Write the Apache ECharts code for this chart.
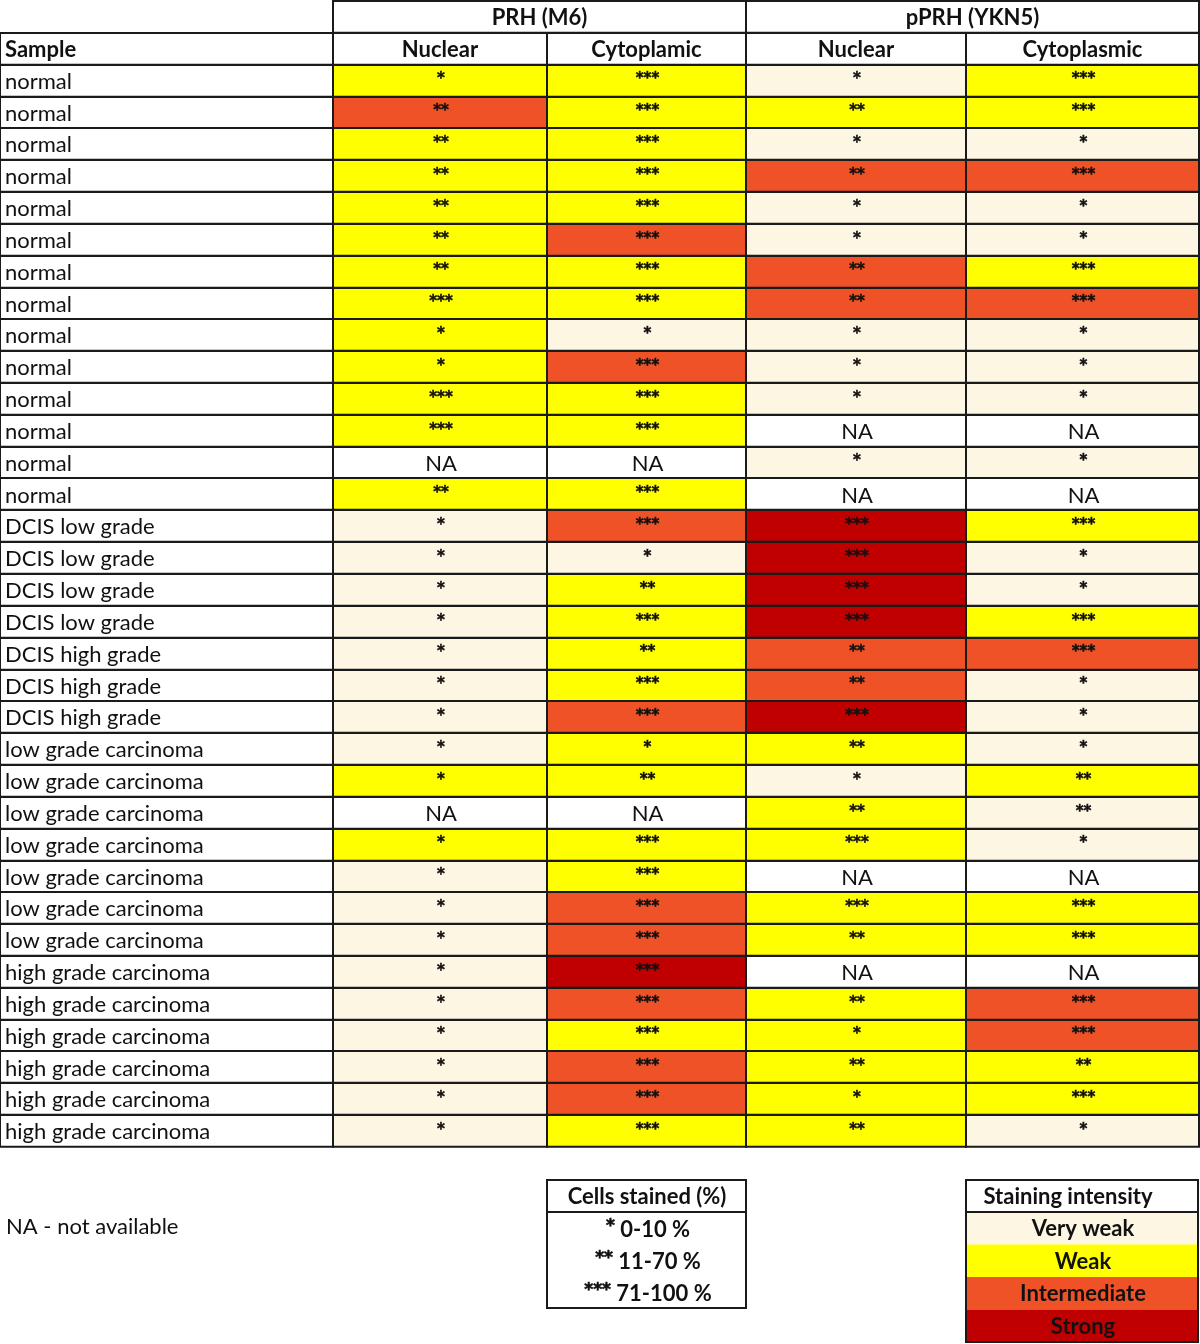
<!DOCTYPE html>
<html><head><meta charset="utf-8">
<script src="https://cdn.jsdelivr.net/npm/echarts@6/dist/echarts.min.js"></script>
<style>html,body{margin:0;padding:0;background:#fff}#c{width:1200px;height:1344px}</style>
</head><body><div id="c"></div>
<script>
// ---------- DATA ----------
const SAMPLES = ['normal','normal','normal','normal','normal','normal','normal','normal','normal','normal','normal','normal','normal','normal',
  'DCIS low grade','DCIS low grade','DCIS low grade','DCIS low grade',
  'DCIS high grade','DCIS high grade','DCIS high grade',
  'low grade carcinoma','low grade carcinoma','low grade carcinoma','low grade carcinoma','low grade carcinoma','low grade carcinoma','low grade carcinoma',
  'high grade carcinoma','high grade carcinoma','high grade carcinoma','high grade carcinoma','high grade carcinoma','high grade carcinoma'];
const GROUPS = ['PRH (M6)', 'pPRH (YKN5)'];
const COLUMNS = ['Nuclear', 'Cytoplamic', 'Nuclear', 'Cytoplasmic'];
// intensity: V very weak, W weak, I intermediate, S strong, N not available
const PRH_NUC_INT   = ['W','I','W','W','W','W','W','W','W','W','W','W','N','W','V','V','V','V','V','V','V','V','W','N','W','V','V','V','V','V','V','V','V','V'];
const PRH_NUC_STARS = [1,2,2,2,2,2,2,3,1,1,3,3,0,2,1,1,1,1,1,1,1,1,1,0,1,1,1,1,1,1,1,1,1,1];
const PRH_CYT_INT   = ['W','W','W','W','W','I','W','W','V','I','W','W','N','W','I','V','W','W','W','W','I','W','W','N','W','W','I','I','S','I','W','I','I','W'];
const PRH_CYT_STARS = [3,3,3,3,3,3,3,3,1,3,3,3,0,3,3,1,2,3,2,3,3,1,2,0,3,3,3,3,3,3,3,3,3,3];
const PPRH_NUC_INT   = ['V','W','V','I','V','V','I','I','V','V','V','N','V','N','S','S','S','S','I','I','S','W','V','W','W','N','W','W','N','W','W','W','W','W'];
const PPRH_NUC_STARS = [1,2,1,2,1,1,2,2,1,1,1,0,1,0,3,3,3,3,2,2,3,2,1,2,3,0,3,2,0,2,1,2,1,2];
const PPRH_CYT_INT   = ['W','W','V','I','V','V','W','I','V','V','V','N','V','N','W','V','V','W','I','V','V','V','W','V','V','N','W','W','N','I','I','W','W','V'];
const PPRH_CYT_STARS = [3,3,1,3,1,1,3,3,1,1,1,0,1,0,3,1,1,3,3,1,1,1,2,2,1,0,3,3,0,3,3,2,3,1];
const INTENSITY_KEYS  = ['V','W','I','S'];
const INTENSITY_NAMES = ['Very weak','Weak','Intermediate','Strong'];
const STAIN_STARS = ['*', '**', '***'];
const STAIN_RANGES = ['0-10 %', '11-70 %', '71-100 %'];
const NA_NOTE = 'NA - not available';

// ---------- STYLE / LAYOUT ----------
const COLORS = {V:'#FDF6E3', W:'#FFFF00', I:'#F05228', S:'#C00000', N:'#FFFFFF'};
const COL_EDGES = [0, 333, 547, 746, 966, 1199];  // x-axis units
const FONT = 'Lato, "Open Sans", sans-serif';
const STAR_FONT = 'bold 15px "DejaVu Sans", sans-serif';
const FS = 22;
const LINE = '#1a1a1a';

const valueCols = [[PRH_NUC_INT,PRH_NUC_STARS],[PRH_CYT_INT,PRH_CYT_STARS],[PPRH_NUC_INT,PPRH_NUC_STARS],[PPRH_CYT_INT,PPRH_CYT_STARS]];
const HEAD = 2;
const rowCats = ['', 'Sample'].concat(SAMPLES);

const cellData = [];
valueCols.forEach((pair, c) => {
  pair[0].forEach((k, r) => cellData.push([c + 1, r + HEAD, k, pair[1][r]]));
});
const textData = [];
textData.push([1, 3, 0, GROUPS[0], true, 'center']);
textData.push([3, 5, 0, GROUPS[1], true, 'center']);
textData.push([0, 1, 1, 'Sample', true, 'left']);
COLUMNS.forEach((t, i) => textData.push([i + 1, i + 2, 1, t, true, 'center']));
SAMPLES.forEach((s, r) => textData.push([0, 1, r + HEAD, s, false, 'left']));

function cellBox(api, c0, c1, row) {
  const p0 = api.coord([COL_EDGES[c0], row]);
  const p1 = api.coord([COL_EDGES[c1], row]);
  const h = api.size([0, 1])[1];
  return {x: Math.round(p0[0]), y: Math.round(p0[1] - h / 2), w: Math.round(p1[0]) - Math.round(p0[0]), h: h, cy: p0[1]};
}

const chart = echarts.init(document.getElementById('c'), null, {renderer: 'canvas'});
const legendTop = 1180, rowH = 32.5;
const bold = 'bold ' + FS + 'px ' + FONT;
const graphics = [];
graphics.push({type:'text', left: 6, top: 1216, style:{text: NA_NOTE, font: FS + 'px ' + FONT, fill:'#111'}});
graphics.push({type:'rect', shape:{x:547, y:legendTop, width:199, height:128}, style:{fill:'#fff', stroke:LINE, lineWidth:2}});
graphics.push({type:'line', shape:{x1:547, y1:legendTop+32, x2:746, y2:legendTop+32}, style:{stroke:LINE, lineWidth:2}});
graphics.push({type:'text', x:647, y:legendTop+17, style:{text:'Cells stained (%)', font:bold, fill:'#111', align:'center', verticalAlign:'middle'}});
STAIN_STARS.forEach((s, i) => graphics.push({type:'text', x:648, y:legendTop + 50 + i * 32,
  style:{text:'{s|' + s + '} ' + STAIN_RANGES[i], font:bold, fill:'#111', align:'center', verticalAlign:'middle',
    rich:{s:{font:'bold 17px "DejaVu Sans", sans-serif', fill:'#111', stroke:'#111', lineWidth:0.6, padding:[0,0,6,0]}}}}));
graphics.push({type:'rect', shape:{x:966, y:legendTop, width:232, height:32}, style:{fill:'#fff', stroke:LINE, lineWidth:2}});
graphics.push({type:'text', x:1068, y:legendTop+17, style:{text:'Staining intensity', font:bold, fill:'#111', align:'center', verticalAlign:'middle'}});
INTENSITY_KEYS.forEach((k, i) => {
  graphics.push({type:'rect', shape:{x:966, y:legendTop + 32 + i * rowH, width:232, height:rowH}, style:{fill:COLORS[k], stroke:null}});
  graphics.push({type:'text', x:1083, y:legendTop + 33 + i * rowH + rowH / 2, style:{text:INTENSITY_NAMES[i], font:bold, fill:'#111', align:'center', verticalAlign:'middle'}});
});
graphics.push({type:'rect', shape:{x:966, y:legendTop + 32, width:232, height:rowH * 4}, style:{fill:null, stroke:LINE, lineWidth:2}});

chart.setOption({
  animation: false,
  backgroundColor: '#fff',
  grid: {left: 0, right: 0, top: 1, height: 1146},
  xAxis: {type:'value', min:0, max:1200, show:false},
  yAxis: {type:'category', data: rowCats, inverse:true, show:false},
  graphic: graphics,
  series: [
    {
      type:'custom', coordinateSystem:'cartesian2d', data: cellData,
      renderItem: function (params, api) {
        const c = api.value(0), r = api.value(1);
        const k = cellData[params.dataIndex][2], n = cellData[params.dataIndex][3];
        const b = cellBox(api, c, c + 1, r);
        const isNA = k === 'N';
        const txt = isNA
          ? {text:'NA', x: b.x + b.w / 2 + 1, y: b.cy + 1, align:'center', verticalAlign:'middle', font: FS + 'px ' + FONT, fill:'#111'}
          : {text:'*'.repeat(n), x: b.x + b.w / 2 + 1, y: b.cy - 1, align:'center', verticalAlign:'middle', font: STAR_FONT,
             fill:'#111', stroke:'#111', lineWidth:0.5};
        return {type:'group', children:[
          {type:'rect', shape:{x:b.x, y:b.y, width:b.w, height:b.h}, style:{fill:COLORS[k], stroke:LINE, lineWidth:2}},
          {type:'text', style:txt}
        ]};
      }
    },
    {
      type:'custom', coordinateSystem:'cartesian2d', data: textData.map(d => [d[0], d[2]]),
      renderItem: function (params, api) {
        const d = textData[params.dataIndex];
        const b = cellBox(api, d[0], d[1], d[2]);
        return {type:'group', children:[
          {type:'rect', shape:{x:b.x, y:b.y, width:b.w, height:b.h}, style:{fill:'#fff', stroke:LINE, lineWidth:2}},
          {type:'text', style:{text:d[3], x: d[5] === 'left' ? b.x + 5 : b.x + b.w / 2, y: b.cy + 1,
            align:d[5], verticalAlign:'middle', font:(d[4] ? 'bold ' : '') + FS + 'px ' + FONT, fill:'#111'}}
        ]};
      }
    }
  ]
});
</script></body></html>
